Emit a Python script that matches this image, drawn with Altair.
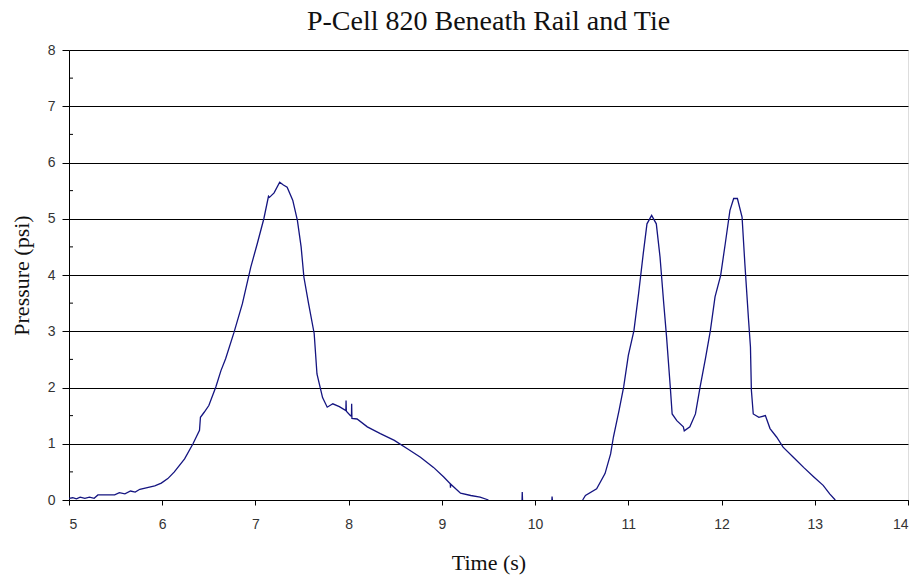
import altair as alt
import pandas as pd

# Time (s)
time = [
    5.00, 5.04, 5.08, 5.12, 5.17, 5.22, 5.27, 5.31, 5.49, 5.54,
    5.60, 5.66, 5.71, 5.76, 5.84, 5.92, 5.99, 6.06, 6.13, 6.24,
    6.33, 6.40, 6.41, 6.45, 6.50, 6.575, 6.63, 6.68, 6.77, 6.86,
    6.95, 7.02, 7.09, 7.14, 7.15, 7.20, 7.26, 7.30, 7.34, 7.40,
    7.45, 7.49, 7.52, 7.57, 7.63, 7.66, 7.72, 7.77, 7.83, 7.90,
    7.97, 7.972, 7.975, 8.02, 8.03, 8.032, 8.035, 8.09, 8.20, 8.34,
    8.49, 8.63, 8.77, 8.91, 9.02, 9.09, 9.092, 9.095, 9.20, 9.31,
    9.41, 9.50, 9.86, 9.862, 9.865, 10.18, 10.182, 10.185, 10.51, 10.54,
    10.66, 10.75, 10.81, 10.84, 10.90, 10.95, 11.00, 11.06, 11.11, 11.16,
    11.20, 11.25, 11.30, 11.34, 11.38, 11.41, 11.45, 11.47, 11.52, 11.59,
    11.60, 11.66, 11.72, 11.77, 11.83, 11.88, 11.93, 11.99, 12.04, 12.09,
    12.13, 12.17, 12.22, 12.25, 12.29, 12.31, 12.32, 12.34, 12.40, 12.47,
    12.52, 12.59, 12.66, 12.77, 12.88, 12.99, 13.09, 13.16, 13.22,
]

# Pressure (psi)
pressure = [
    0.03, 0.04, 0.02, 0.05, 0.03, 0.05, 0.03, 0.09, 0.09, 0.13,
    0.11, 0.16, 0.14, 0.19, 0.22, 0.25, 0.30, 0.38, 0.50, 0.73,
    1.00, 1.24, 1.47, 1.56, 1.68, 2.01, 2.30, 2.51, 2.98, 3.49,
    4.14, 4.56, 5.00, 5.40, 5.38, 5.46, 5.65, 5.60, 5.56, 5.33,
    4.97, 4.50, 3.96, 3.49, 2.96, 2.24, 1.82, 1.65, 1.71, 1.66,
    1.59, 1.77, 1.58, 1.50, 1.49, 1.71, 1.45, 1.44, 1.30, 1.18,
    1.06, 0.91, 0.76, 0.58, 0.41, 0.29, 0.22, 0.28, 0.12, 0.08,
    0.05, 0.00, 0.00, 0.14, 0.00, 0.00, 0.06, 0.00, 0.00, 0.08,
    0.20, 0.47, 0.82, 1.12, 1.59, 2.01, 2.57, 3.01, 3.67, 4.38,
    4.91, 5.06, 4.91, 4.32, 3.49, 2.90, 2.01, 1.53, 1.41, 1.30,
    1.23, 1.30, 1.53, 2.01, 2.54, 3.01, 3.61, 3.99, 4.56, 5.15,
    5.36, 5.36, 5.03, 4.20, 3.19, 2.72, 1.95, 1.53, 1.47, 1.50,
    1.27, 1.12, 0.94, 0.76, 0.58, 0.41, 0.26, 0.11, 0.00,
]

# Recording segments (the trace is absent between 9.5 s and 10.5 s except two blips)
segment = [0] * 72 + [1] * 3 + [2] * 3 + [3] * 51

x_ticks = [5, 6, 7, 8, 9, 10, 11, 12, 13, 14]
y_ticks = [0, 1, 2, 3, 4, 5, 6, 7, 8]
y_minor = [0.5, 1.5, 2.5, 3.5, 4.5, 5.5, 6.5, 7.5]

df = pd.DataFrame({"time": time, "pressure": pressure, "segment": segment})
minor_df = pd.DataFrame({"v": y_minor})

x_scale = alt.Scale(domain=[5, 14], nice=False, zero=False)
y_scale = alt.Scale(domain=[0, 8], nice=False)

label_font = "Liberation Sans"
serif = "Liberation Serif"

line = alt.Chart(df).mark_line(color="#141480", strokeWidth=1.3, interpolate="linear").encode(
    x=alt.X(
        "time:Q",
        scale=x_scale,
        axis=alt.Axis(
            title="Time (s)",
            values=x_ticks,
            format="d",
            grid=False,
            domainColor="black",
            domainWidth=1,
            tickColor="black",
            tickSize=5,
            labelPadding=12,
            labelFont=label_font,
            labelFontSize=14,
            labelColor="#333333",
            titleFont=serif,
            titleFontSize=22,
            titleFontWeight="normal",
            titleColor="#111111",
            titlePadding=21,
            zindex=1,
        ),
    ),
    y=alt.Y(
        "pressure:Q",
        scale=y_scale,
        axis=alt.Axis(
            title="Pressure (psi)",
            values=y_ticks,
            format="d",
            grid=True,
            gridColor="black",
            gridWidth=1,
            gridOpacity=1,
            domainColor="black",
            domainWidth=1,
            tickColor="black",
            tickSize=7,
            labelPadding=7,
            labelFont=label_font,
            labelFontSize=14,
            labelColor="#333333",
            titleFont=serif,
            titleFontSize=22,
            titleFontWeight="normal",
            titleColor="#111111",
            titlePadding=14,
            zindex=0,
        ),
    ),
    detail="segment:N",
)

minor = alt.Chart(minor_df).mark_rule(color="black", strokeWidth=1).encode(
    y=alt.Y("v:Q", scale=y_scale),
    x=alt.value(0),
    x2=alt.value(4),
)

chart = alt.layer(line, minor).properties(
    width=839,
    height=450,
    title=alt.TitleParams(
        "P-Cell 820 Beneath Rail and Tie",
        font=serif,
        fontSize=28,
        fontWeight="normal",
        color="#111111",
        offset=7,
        anchor="middle",
    ),
    autosize=alt.AutoSizeParams(type="none"),
    padding={"left": 69, "top": 50, "right": 13, "bottom": 78},
).configure_view(stroke=None).configure(background="white")

chart.save("out.html", embed_options={"renderer": "svg", "actions": False})
